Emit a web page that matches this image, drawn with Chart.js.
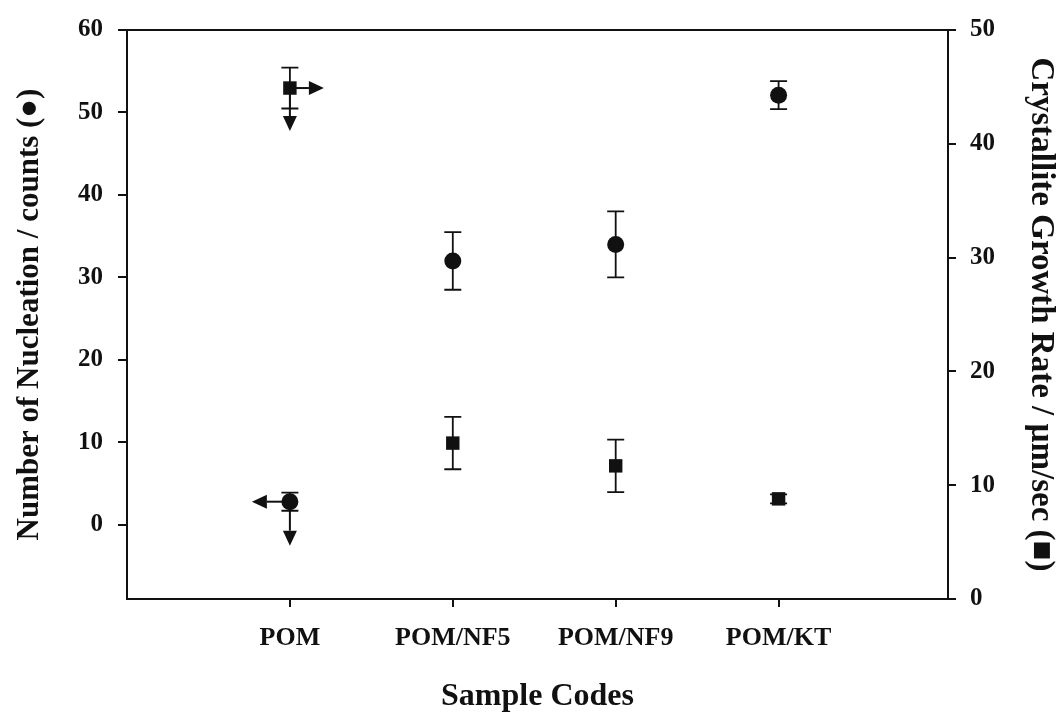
<!DOCTYPE html>
<html>
<head>
<meta charset="utf-8">
<script src="https://cdn.jsdelivr.net/npm/chart.js@4.4.1/dist/chart.umd.min.js"></script>
<style>
  body { margin: 0; background: #fff; }
  canvas { display: block; }
</style>
</head>
<body>
<canvas id="chart" width="1060" height="716"></canvas>
<script>
// Sample codes on the x axis
const samples = ['POM', 'POM/NF5', 'POM/NF9', 'POM/KT'];

// Number of nucleation (counts), left axis, circles
const nucleation = [2.8, 32, 34, 52.1];
const nucleationErr = [1.1, 3.5, 4, 1.7];

// Crystallite growth rate (um/sec), right axis, squares
const growthRate = [44.9, 13.7, 11.7, 8.8];
const growthErr = [1.8, 2.3, 2.3, 0.4];

const leftTicks = [0, 10, 20, 30, 40, 50, 60];
const rightTicks = [0, 10, 20, 30, 40, 50];

const FONT = '"Liberation Serif", "Times New Roman", serif';

const toPoints = (vals) => vals.map((v, i) => ({ x: i + 1, y: v }));

// error bars drawn under the markers
const errorBars = {
    id: 'errorBars',
    beforeDatasetsDraw(chart) {
        const ctx = chart.ctx;
        chart.data.datasets.forEach((ds, di) => {
            const meta = chart.getDatasetMeta(di);
            const yScale = chart.scales[ds.yAxisID];
            meta.data.forEach((pt, i) => {
                const v = ds.data[i].y, e = ds.errors[i];
                const yTop = yScale.getPixelForValue(v + e);
                const yBot = yScale.getPixelForValue(v - e);
                ctx.save();
                ctx.strokeStyle = '#111';
                ctx.lineWidth = 1.8;
                ctx.beginPath();
                ctx.moveTo(pt.x, yTop); ctx.lineTo(pt.x, yBot);
                ctx.moveTo(pt.x - 8.5, yTop); ctx.lineTo(pt.x + 8.5, yTop);
                ctx.moveTo(pt.x - 8.5, yBot); ctx.lineTo(pt.x + 8.5, yBot);
                ctx.stroke();
                ctx.restore();
            });
        });
    }
};

// arrows showing which axis each POM marker belongs to
const arrows = [
    { dataset: 0, index: 0, dir: 'left', len: 38 },
    { dataset: 0, index: 0, dir: 'down', len: 44 },
    { dataset: 1, index: 0, dir: 'right', len: 34 },
    { dataset: 1, index: 0, dir: 'down', len: 43 }
];

const arrowPlugin = {
    id: 'arrowPlugin',
    afterDatasetsDraw(chart) {
        const ctx = chart.ctx;
        arrows.forEach(a => {
            const pt = chart.getDatasetMeta(a.dataset).data[a.index];
            const dx = a.dir === 'left' ? -1 : a.dir === 'right' ? 1 : 0;
            const dy = a.dir === 'down' ? 1 : 0;
            const tipX = pt.x + dx * a.len, tipY = pt.y + dy * a.len;
            const head = 15, half = 7;
            const baseX = tipX - dx * head, baseY = tipY - dy * head;
            ctx.save();
            ctx.strokeStyle = '#111';
            ctx.fillStyle = '#111';
            ctx.lineWidth = 2;
            ctx.beginPath();
            ctx.moveTo(pt.x, pt.y);
            ctx.lineTo(baseX, baseY);
            ctx.stroke();
            ctx.beginPath();
            ctx.moveTo(tipX, tipY);
            ctx.lineTo(baseX + dy * half, baseY + dx * half);
            ctx.lineTo(baseX - dy * half, baseY - dx * half);
            ctx.closePath();
            ctx.fill();
            ctx.restore();
        });
    }
};

// box around the plot area
const frame = {
    id: 'frame',
    afterDraw(chart) {
        const { left, top, right, bottom } = chart.chartArea;
        const ctx = chart.ctx;
        ctx.save();
        ctx.strokeStyle = '#111';
        ctx.lineWidth = 2;
        ctx.strokeRect(left, top, right - left, bottom - top);
        ctx.restore();
    }
};

const ctx = document.getElementById('chart').getContext('2d');
new Chart(ctx, {
    type: 'scatter',
    data: {
        datasets: [
            {
                label: 'Number of Nucleation',
                data: toPoints(nucleation),
                errors: nucleationErr,
                yAxisID: 'y',
                pointStyle: 'circle',
                pointRadius: 8.5,
                backgroundColor: '#111',
                borderColor: '#111',
                borderWidth: 0
            },
            {
                label: 'Crystallite Growth Rate',
                data: toPoints(growthRate),
                errors: growthErr,
                yAxisID: 'y1',
                pointStyle: 'rect',
                pointRadius: 9.5,
                backgroundColor: '#111',
                borderColor: '#111',
                borderWidth: 0
            }
        ]
    },
    options: {
        responsive: false,
        animation: false,
        layout: { padding: { top: 22, left: 0, right: 0, bottom: 0 } },
        plugins: {
            legend: { display: false },
            tooltip: { enabled: false }
        },
        scales: {
            x: {
                type: 'linear',
                min: 0,
                max: 5.04,
                afterBuildTicks: (scale) => { scale.ticks = samples.map((s, i) => ({ value: i + 1 })); },
                afterFit: (scale) => { scale.height = 117; },
                ticks: {
                    callback: (v) => samples[v - 1] || '',
                    color: '#111',
                    font: { family: FONT, size: 26, weight: 'bold' },
                    padding: 16,
                    maxRotation: 0
                },
                grid: { drawOnChartArea: false, drawTicks: true, tickLength: 8, color: '#111', lineWidth: 2 },
                border: { display: false },
                title: {
                    display: true,
                    text: 'Sample Codes',
                    color: '#111',
                    font: { family: FONT, size: 32, weight: 'bold' },
                    padding: { top: 0, bottom: 0 }
                }
            },
            y: {
                position: 'left',
                min: -9,
                max: 60,
                afterBuildTicks: (scale) => { scale.ticks = leftTicks.map(v => ({ value: v })); },
                afterFit: (scale) => { scale.width = 127; },
                ticks: {
                    color: '#111',
                    font: { family: FONT, size: 25, weight: 'bold' },
                    padding: 15
                },
                grid: { drawOnChartArea: false, drawTicks: true, tickLength: 9, color: '#111', lineWidth: 2 },
                border: { display: false },
                title: {
                    display: true,
                    text: 'Number of Nucleation / counts (\u25CF)',
                    color: '#111',
                    font: { family: FONT, size: 31, weight: 'bold' },
                    padding: { top: 11, bottom: 0 }
                }
            },
            y1: {
                position: 'right',
                min: 0,
                max: 50,
                afterBuildTicks: (scale) => { scale.ticks = rightTicks.map(v => ({ value: v })); },
                afterFit: (scale) => { scale.width = 112; },
                ticks: {
                    color: '#111',
                    font: { family: FONT, size: 25, weight: 'bold' },
                    padding: 14
                },
                grid: { drawOnChartArea: false, drawTicks: true, tickLength: 8, color: '#111', lineWidth: 2 },
                border: { display: false },
                title: {
                    display: true,
                    text: 'Crystallite Growth Rate / \u00B5m/sec (\u25A0)',
                    color: '#111',
                    font: { family: FONT, size: 33, weight: 'bold' },
                    padding: { top: 0, bottom: 0 }
                }
            }
        }
    },
    plugins: [errorBars, arrowPlugin, frame]
});
</script>
</body>
</html>
